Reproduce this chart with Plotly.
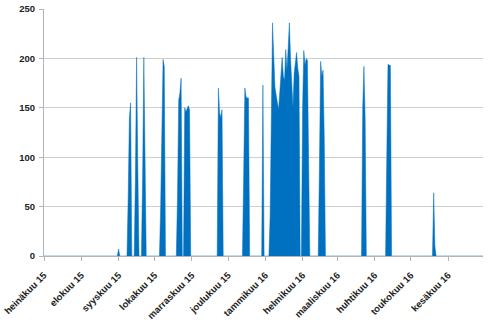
import pandas as pd
import plotly.graph_objects as go

# Non-zero daily values (all other days are 0)
spike_dates = [
    "2015-09-01",
    "2015-09-09", "2015-09-10", "2015-09-11",
    "2015-09-15", "2015-09-16", "2015-09-17",
    "2015-09-21", "2015-09-22", "2015-09-23",
    "2015-10-06", "2015-10-07", "2015-10-08", "2015-10-09",
    "2015-10-20", "2015-10-21", "2015-10-22", "2015-10-23",
    "2015-10-26", "2015-10-27", "2015-10-28", "2015-10-29", "2015-10-30",
    "2015-11-23", "2015-11-24", "2015-11-25", "2015-11-26",
    "2015-12-14", "2015-12-15", "2015-12-16", "2015-12-17", "2015-12-18",
    "2015-12-30",
    "2016-01-05", "2016-01-06", "2016-01-07", "2016-01-08", "2016-01-09",
    "2016-01-10", "2016-01-11", "2016-01-12", "2016-01-13", "2016-01-14",
    "2016-01-15", "2016-01-16", "2016-01-17", "2016-01-18", "2016-01-19",
    "2016-01-20", "2016-01-21", "2016-01-22", "2016-01-23", "2016-01-24",
    "2016-01-25", "2016-01-26", "2016-01-27", "2016-01-28", "2016-01-29",
    "2016-02-01", "2016-02-02", "2016-02-03", "2016-02-04", "2016-02-05", "2016-02-06",
    "2016-02-15", "2016-02-16", "2016-02-17", "2016-02-18", "2016-02-19",
    "2016-03-22", "2016-03-23", "2016-03-24",
    "2016-04-11", "2016-04-12", "2016-04-13", "2016-04-14",
    "2016-05-20", "2016-05-21",
]
spike_values = [
    7,
    60, 140, 155,
    80, 201, 90,
    80, 201, 100,
    50, 125, 199, 192,
    60, 158, 165, 180,
    150, 146, 149, 152, 148,
    170, 145, 140, 148,
    80, 170, 161, 160, 160,
    173,
    40, 140, 236, 203, 171,
    163, 155, 148, 165, 185,
    201, 182, 178, 209, 188,
    210, 236, 200, 175, 150,
    185, 195, 206, 190, 182,
    150, 208, 193, 200, 198, 60,
    90, 197, 182, 188, 120,
    150, 192, 140,
    100, 194, 193, 193,
    64, 10,
]

start_date = "2015-07-01"
end_date = "2016-06-30"

tick_dates = ["2015-07-01", "2015-08-01", "2015-09-01", "2015-10-01", "2015-11-01",
              "2015-12-01", "2016-01-01", "2016-02-01", "2016-03-01", "2016-04-01",
              "2016-05-01", "2016-06-01"]
tick_labels = ["heinäkuu 15", "elokuu 15", "syyskuu 15", "lokakuu 15", "marraskuu 15",
               "joulukuu 15", "tammikuu 16", "helmikuu 16", "maaliskuu 16", "huhtikuu 16",
               "toukokuu 16", "kesäkuu 16"]

days = pd.date_range(start_date, end_date, freq="D")
series = pd.Series(0.0, index=days)
for d, v in zip(spike_dates, spike_values):
    series[pd.Timestamp(d)] = v

fig = go.Figure()
fig.add_trace(go.Scatter(
    x=series.index, y=series.values,
    mode="lines", fill="tozeroy",
    fillcolor="#0070C0",
    line=dict(color="#0070C0", width=0.5),
    hoverinfo="skip",
))

font_family = "Liberation Sans, Arial, sans-serif"
fig.update_layout(
    width=500, height=327,
    margin=dict(l=44, r=17, t=9, b=71),
    paper_bgcolor="white", plot_bgcolor="white",
    showlegend=False,
    font=dict(family=font_family, size=10, color="#222222"),
)
fig.update_xaxes(
    range=[start_date, end_date],
    tickvals=tick_dates, ticktext=tick_labels,
    tickangle=-45,
    tickfont=dict(family=font_family, size=9.5, color="#222222", weight="bold"),
    showgrid=False,
    showline=True, linecolor="#B4B4B4", linewidth=1,
    ticks="outside", ticklen=4, tickcolor="#B4B4B4",
    ticklabelstandoff=5,
    zeroline=False,
    automargin=False,
)
fig.update_yaxes(
    range=[0, 250], dtick=50, tick0=0,
    tickfont=dict(family=font_family, size=9.5, color="#222222", weight="bold"),
    showgrid=True, gridcolor="#CFCFCF", gridwidth=1,
    showline=True, linecolor="#B4B4B4", linewidth=1,
    ticks="outside", ticklen=4, tickcolor="#B4B4B4",
    ticklabelstandoff=2,
    zeroline=False,
    automargin=False,
)

fig.write_html("out.html")
